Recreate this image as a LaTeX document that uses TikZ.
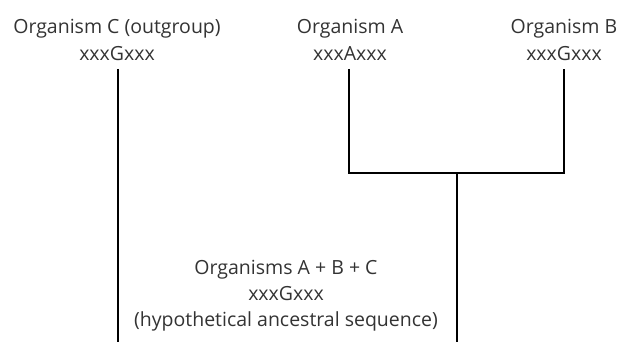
\documentclass[tikz,border=0pt]{standalone}
\usepackage{fontspec}
\setmainfont{Open Sans}
\usetikzlibrary{positioning}

\begin{document}
\begin{tikzpicture}[
    x=1pt, y=-1pt,
    label/.style={align=center, text=black!80, font=\fontsize{19.5}{27}\selectfont, inner sep=0pt},
    branch/.style={line width=2.6pt, black},
    base/.style={line width=0.6pt, black!30}
]
    \useasboundingbox (0,0) rectangle (619,342);

    % Leaves
    \node[label] (orgC) at (117,39.5) {Organism C (outgroup)\\xxxGxxx};
    \node[label] (orgA) at (350,39.5) {Organism A\\xxxAxxx};
    \node[label] (orgB) at (564,39.5) {Organism B\\xxxGxxx};
    \node[label, font=\fontsize{19.5}{26}\selectfont] (anc) at (286,296) {Organisms A + B + C\\xxxGxxx\\(hypothetical ancestral sequence)};

    % Branch points
    \coordinate (cTop) at (118,69);
    \coordinate (cBot) at (118,342);
    \coordinate (aTop) at (349,69);
    \coordinate (bTop) at (564,69);
    \coordinate (abJoin) at (457,173);
    \coordinate (root) at (457,342);

    % Tree
    \draw[base] (cBot) -- (root);
    \draw[branch] (cTop) -- (cBot);
    \draw[branch] (aTop) |- (abJoin) -| (bTop);
    \draw[branch] (abJoin) -- (root);
\end{tikzpicture}
\end{document}
